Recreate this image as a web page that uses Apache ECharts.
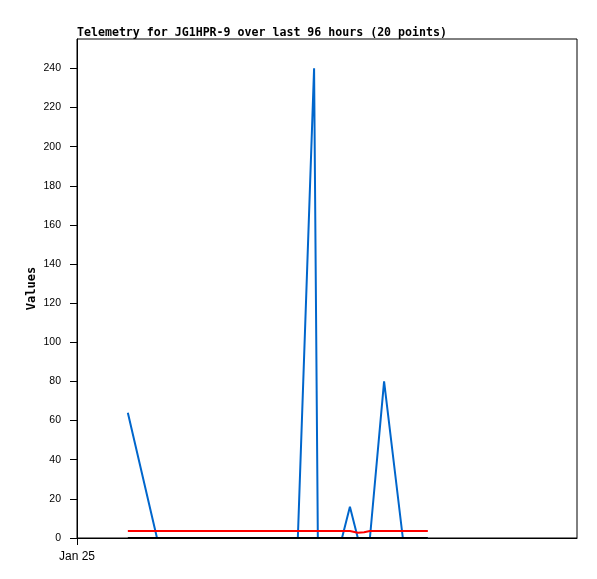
<!DOCTYPE html>
<html><head><meta charset="utf-8">
<script src="https://cdn.jsdelivr.net/npm/echarts@6/dist/echarts.min.js"></script>
<style>html,body{margin:0;padding:0;background:#fff}#c{width:597px;height:579px}</style>
</head><body><div id="c"></div>
<script>
// x positions in hours since Jan 25 00:00
var hours = [12.2, 19.2, 27.1, 36.7, 45.1, 49.9, 53.0, 56.9, 57.8, 60.7, 63.6, 65.5, 67.4, 68.9, 70.3, 73.7, 78.2, 81.1, 84.2, 84.2];
var blueVals = [64, 0, 0, 0, 0, 0, 0, 240, 0, 0, 0, 16, 0, 0, 0, 80, 0, 0, 0, 0];
var redVals = [3.6, 3.6, 3.6, 3.6, 3.6, 3.6, 3.6, 3.6, 3.6, 3.6, 3.6, 3.6, 2.7, 2.9, 3.6, 3.6, 3.6, 3.6, 3.6, 3.6];
var blackVals = [0, 0, 0, 0, 0, 0, 0, 0, 0, 0, 0, 0, 0, 0, 0, 0, 0, 0, 0, 0];
var yTicks = [0, 20, 40, 60, 80, 100, 120, 140, 160, 180, 200, 220, 240];
var xTickLabels = ['Jan 25'];
var xTickValues = [0];

function pairs(vals) { return hours.map(function (h, i) { return [h, vals[i]]; }); }

var chart = echarts.init(document.getElementById('c'), null, {renderer: 'canvas'});
chart.setOption({
  animation: false,
  backgroundColor: '#fff',
  title: {
    text: 'Telemetry for JG1HPR-9 over last 96 hours (20 points)',
    left: 72, top: 22,
    textStyle: {fontFamily: 'DejaVu Sans Mono', fontWeight: 'bold', fontSize: 11.6, color: '#000'}
  },
  grid: {left: 77, right: 20, top: 39, bottom: 41, show: true, borderColor: '#000', borderWidth: 1, backgroundColor: 'transparent'},
  xAxis: {
    type: 'value', min: 0, max: 120,
    axisLine: {show: true, lineStyle: {color: '#000', width: 1}},
    axisTick: {show: true, length: 7, customValues: xTickValues, lineStyle: {color: '#000'}},
    axisLabel: {show: true, customValues: xTickValues, margin: 13,
      formatter: function (v) { var i = xTickValues.indexOf(v); return i >= 0 ? xTickLabels[i] : ''; },
      fontFamily: 'Liberation Sans', fontSize: 12, color: '#000'},
    splitLine: {show: false}
  },
  yAxis: {
    type: 'value', min: 0, max: 255,
    name: 'Values', nameLocation: 'middle', nameRotate: 90, nameGap: 39, nameMoveOverlap: false,
    nameTextStyle: {fontFamily: 'DejaVu Sans Mono', fontWeight: 'bold', fontSize: 12, color: '#000'},
    axisLine: {show: true, lineStyle: {color: '#000', width: 1}},
    axisTick: {show: true, length: 7, customValues: yTicks, lineStyle: {color: '#000'}},
    axisLabel: {show: true, customValues: yTicks, margin: 16,
      fontFamily: 'Liberation Sans', fontSize: 10.5, color: '#000'},
    splitLine: {show: false}
  },
  series: [
    {type: 'line', data: pairs(blackVals), symbol: 'none', lineStyle: {color: '#000', width: 2}, z: 3},
    {type: 'line', data: pairs(blueVals), symbol: 'none', lineStyle: {color: '#0066cc', width: 2}, z: 2},
    {type: 'line', data: pairs(redVals), symbol: 'none', lineStyle: {color: '#ff0000', width: 2}, z: 4}
  ]
});
</script></body></html>
